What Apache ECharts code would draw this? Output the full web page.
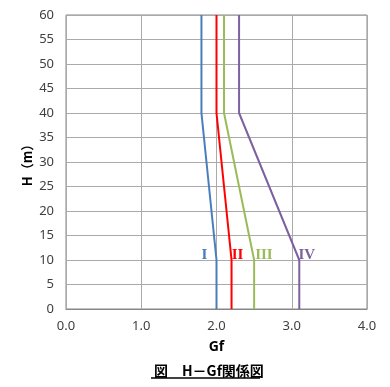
<!DOCTYPE html>
<html>
<head>
<meta charset="utf-8">
<script src="https://cdn.jsdelivr.net/npm/echarts@6/dist/echarts.min.js"></script>
<style>html,body{margin:0;padding:0;background:#fff;}#c{width:390px;height:387px;}</style>
</head>
<body>
<div id="c"></div>
<script>
var heights = [0, 10, 40, 60];
var gfI = [2.0, 2.0, 1.8, 1.8];
var gfII = [2.2, 2.2, 2.0, 2.0];
var gfIII = [2.5, 2.5, 2.1, 2.1];
var gfIV = [3.1, 3.1, 2.3, 2.3];
var seriesNames = ['Ⅰ', 'Ⅱ', 'Ⅲ', 'Ⅳ'];
var labelText = ['I', 'II', 'III', 'IV'];
var labelGf = [1.84, 2.28, 2.63, 3.2];
var labelH = [11, 11, 11, 11];
var colors = ['#4A7EBB', '#FF0000', '#9BBB59', '#7D60A0'];

var all = [gfI, gfII, gfIII, gfIV];
var chart = echarts.init(document.getElementById('c'));
var series = all.map(function (vals, i) {
  return {
    name: seriesNames[i],
    type: 'line',
    data: vals.map(function (v, j) { return [v, heights[j]]; }),
    symbol: 'none',
    lineStyle: { color: colors[i], width: 2 },
    itemStyle: { color: colors[i] },
    markPoint: {
      symbol: 'circle', symbolSize: 0,
      data: [{ coord: [labelGf[i], labelH[i]], value: labelText[i] }],
      label: {
        show: true, formatter: labelText[i], color: colors[i],
        fontFamily: 'Liberation Serif', fontWeight: 'bold', fontSize: 15
      }
    }
  };
});
chart.setOption({
  animation: false,
  grid: { left: 66, right: 23, top: 15, bottom: 78, show: true, borderColor: '#868686', borderWidth: 1 },
  xAxis: {
    type: 'value', min: 0, max: 4, interval: 1,
    name: 'Gf', nameLocation: 'middle', nameGap: 31,
    nameTextStyle: { fontFamily: 'Noto Sans', fontWeight: 'bold', fontSize: 14, color: '#000' },
    axisLine: { show: true, lineStyle: { color: '#868686' } },
    axisTick: { show: false },
    axisLabel: { color: '#404040', fontFamily: 'Noto Sans', fontSize: 13, margin: 11,
      formatter: function (v) { return v.toFixed(1); } },
    splitLine: { show: true, lineStyle: { color: '#AAAAAA' } }
  },
  yAxis: {
    type: 'value', min: 0, max: 60, interval: 5,
    name: 'H（m）', nameLocation: 'middle', nameGap: 39, nameRotate: 90, nameMoveOverlap: false,
    nameTextStyle: { fontFamily: 'Noto Sans CJK JP', fontWeight: 'bold', fontSize: 13, color: '#000',
      verticalAlign: 'middle' },
    axisLine: { show: true, lineStyle: { color: '#AAAAAA' } },
    axisTick: { show: false },
    axisLabel: { color: '#404040', fontFamily: 'Noto Sans', fontSize: 13, margin: 12 },
    splitLine: { show: true, lineStyle: { color: '#AAAAAA' } }
  },
  title: {
    text: '図　H－Gf関係図', left: 149, top: 359,
    textStyle: { fontFamily: 'Noto Sans CJK JP', fontWeight: 'bold', fontSize: 14, color: '#000' }
  },
  graphic: [{
    type: 'line', shape: { x1: 151, y1: 378, x2: 260, y2: 378 },
    style: { stroke: '#000', lineWidth: 1.5 }
  }],
  series: series
});
</script>
</body>
</html>
